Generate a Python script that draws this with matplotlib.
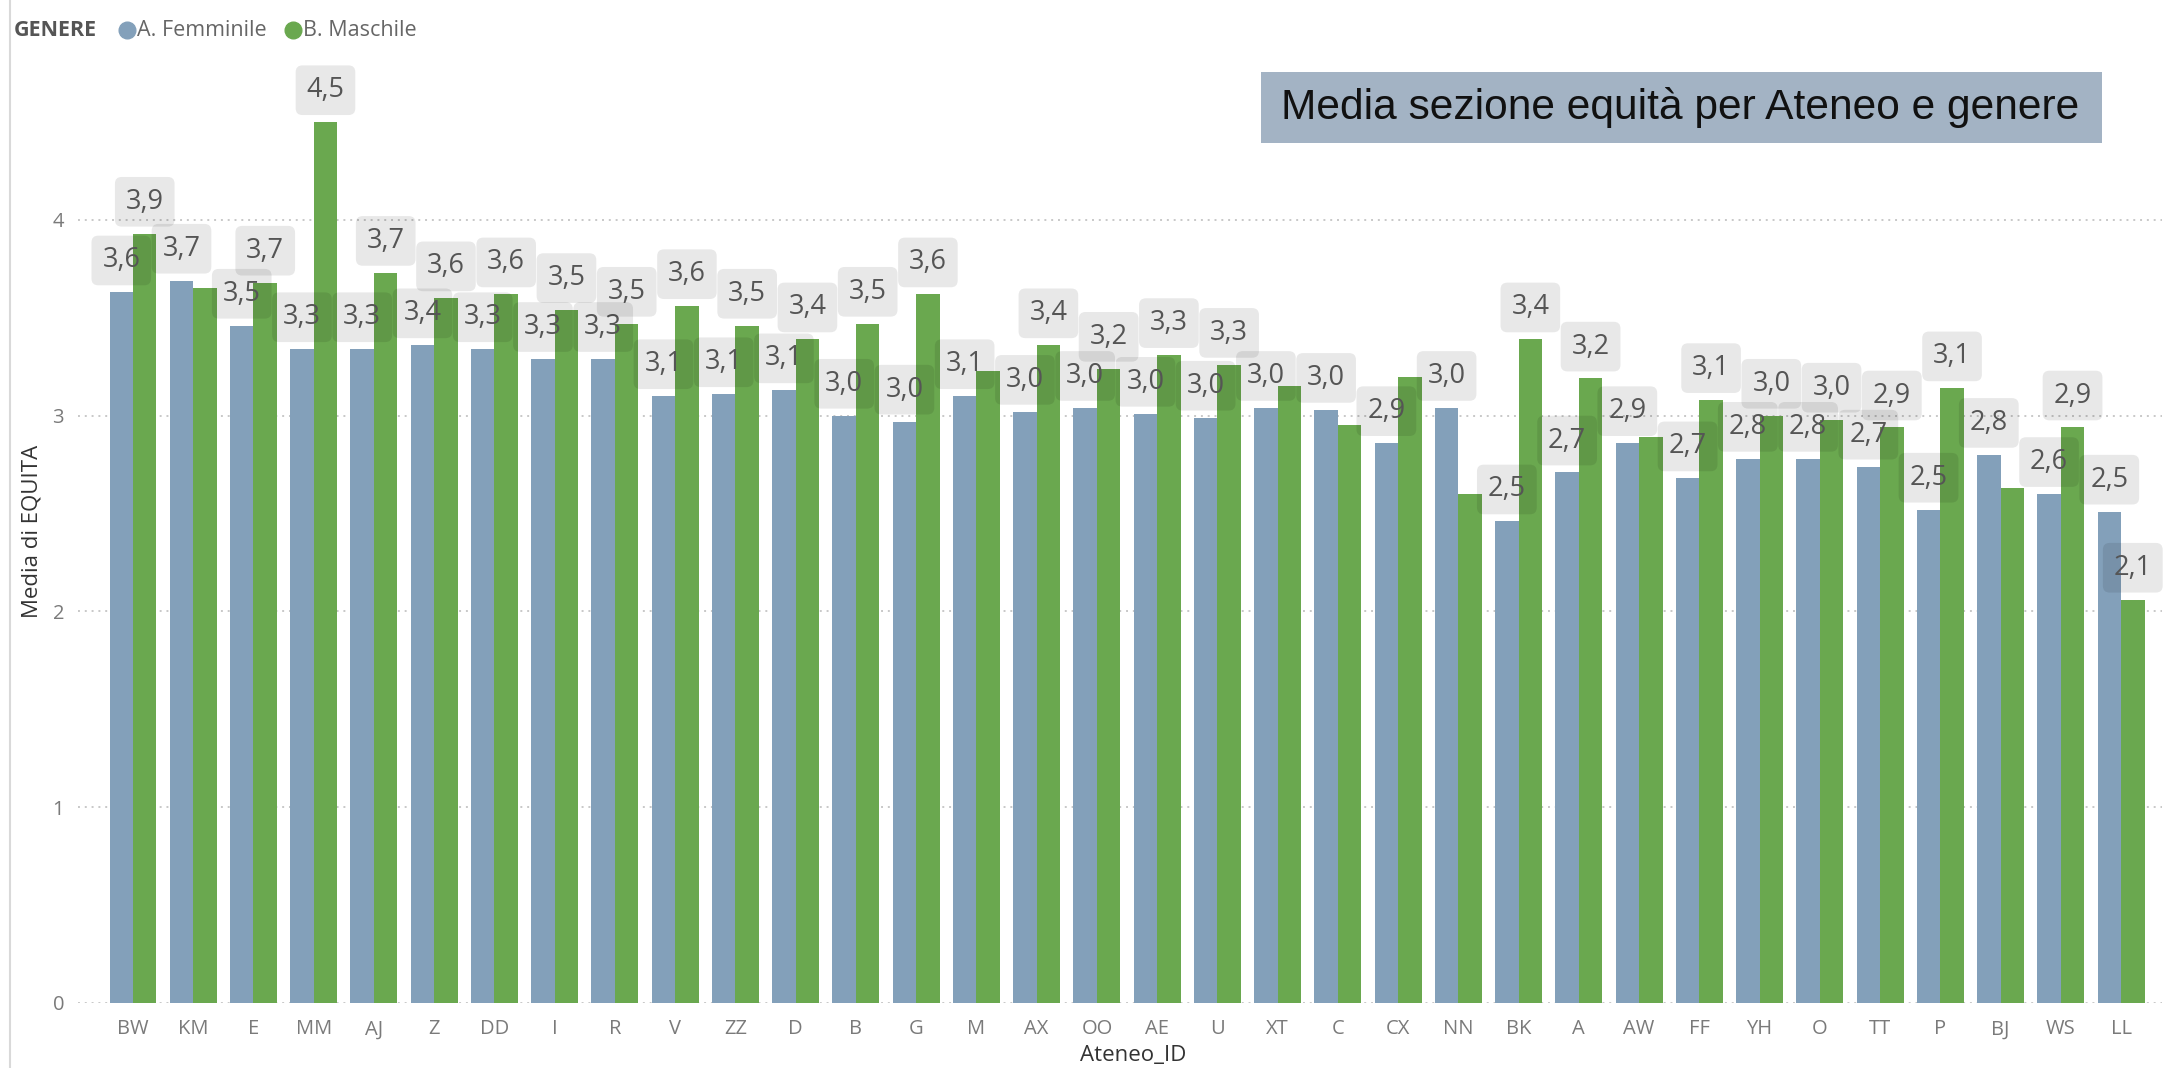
import matplotlib
matplotlib.use("Agg")
import matplotlib.pyplot as plt
from matplotlib.lines import Line2D
from matplotlib.patches import Rectangle
import numpy as np

# ---- data -------------------------------------------------------------
ateneo = ["BW", "KM", "E", "MM", "AJ", "Z", "DD", "I", "R", "V", "ZZ", "D",
          "B", "G", "M", "AX", "OO", "AE", "U", "XT", "C", "CX", "NN", "BK",
          "A", "AW", "FF", "YH", "O", "TT", "P", "BJ", "WS", "LL"]
femminile = [3.63, 3.69, 3.46, 3.34, 3.34, 3.36, 3.34, 3.29, 3.29, 3.10, 3.11, 3.13,
             3.00, 2.97, 3.10, 3.02, 3.04, 3.01, 2.99, 3.04, 3.03, 2.86, 3.04, 2.46,
             2.71, 2.86, 2.68, 2.78, 2.78, 2.74, 2.52, 2.80, 2.60, 2.51]
maschile = [3.93, 3.65, 3.68, 4.50, 3.73, 3.60, 3.62, 3.54, 3.47, 3.56, 3.46, 3.39,
            3.47, 3.62, 3.23, 3.36, 3.24, 3.31, 3.26, 3.15, 2.95, 3.20, 2.60, 3.39,
            3.19, 2.89, 3.08, 3.00, 2.98, 2.94, 3.14, 2.63, 2.94, 2.06]
# data labels that are displayed (overlapping ones are suppressed)
show_f = [True] * len(ateneo)
show_m = [a not in ("KM", "M", "XT", "C", "CX", "NN", "AW", "BJ") for a in ateneo]
yticks = [0, 1, 2, 3, 4]
series_names = ["A. Femminile", "B. Maschile"]
legend_title = "GENERE"
chart_title = "Media sezione equità per Ateneo e genere"

# ---- style ------------------------------------------------------------
C_F = "#83A0BA"
C_M = "#6AA84F"
FONT = ["Open Sans", "DejaVu Sans"]
plt.rcParams["font.family"] = FONT

W, H = 2172, 1068
fig = plt.figure(figsize=(W / 100, H / 100), dpi=100)
fig.patch.set_facecolor("white")

ax_left, ax_right, ax_bottom_px, ax_top_px = 78, 2162, 1002.8, 59.5
ax = fig.add_axes([ax_left / W, 1 - ax_bottom_px / H,
                   (ax_right - ax_left) / W, (ax_bottom_px - ax_top_px) / H])
ax.set_facecolor("white")

x = np.arange(len(ateneo))
bw = 0.39
ax.bar(x - bw / 2, femminile, width=bw, color=C_F, zorder=2)
ax.bar(x + bw / 2, maschile, width=bw, color=C_M, zorder=2)

ax.set_xlim(-0.913, 33.68)
ax.set_ylim(0, 4.82)
ax.set_yticks(yticks)
ax.set_yticklabels([str(t) for t in yticks], fontsize=14.5, color="#7a7a7a")
ax.set_xticks(x)
ax.set_xticklabels(ateneo, fontsize=14.5, color="#7a7a7a")
ax.tick_params(axis="both", length=0)
ax.tick_params(axis="y", pad=10)
ax.tick_params(axis="x", pad=12)
for s in ax.spines.values():
    s.set_visible(False)
ax.yaxis.grid(True, linestyle=(0, (1, 2.5)), color="#c8c8c8", linewidth=1.4, zorder=0)
ax.set_axisbelow(True)


def fmt(v):
    return f"{v:.1f}".replace(".", ",")


off = 0.163
box = dict(boxstyle="round,pad=0.4,rounding_size=0.25", facecolor="black",
           alpha=0.09, edgecolor="none")
for i in range(len(ateneo)):
    if show_f[i]:
        ax.text(x[i] - bw / 2, femminile[i] + off, fmt(femminile[i]), ha="center",
                va="center", fontsize=19.5, color="#555555", bbox=box, zorder=4)
    if show_m[i]:
        ax.text(x[i] + bw / 2, maschile[i] + off, fmt(maschile[i]), ha="center",
                va="center", fontsize=19.5, color="#555555", bbox=box, zorder=4)

# axis titles
fig.text(32 / W, 1 - 531 / H, "Media di EQUITA", rotation=90, ha="center",
         va="center", fontsize=16, color="#333333")
fig.text(1133 / W, 1 - 1055 / H, "Ateneo_ID", ha="center", va="center",
         fontsize=16, color="#333333")

# legend row
ly = 1 - 30 / H
fig.text(14 / W, ly, legend_title, ha="left", va="center", fontsize=15.5,
         fontweight="bold", color="#555555")
fig.add_artist(Line2D([127 / W], [ly], marker="o", markersize=12, color=C_F,
                      linestyle="none", transform=fig.transFigure))
fig.text(137 / W, ly, series_names[0], ha="left", va="center", fontsize=15.5,
         color="#666666")
fig.add_artist(Line2D([293 / W], [ly], marker="o", markersize=12, color=C_M,
                      linestyle="none", transform=fig.transFigure))
fig.text(303 / W, ly, series_names[1], ha="left", va="center", fontsize=15.5,
         color="#666666")

# title panel
fig.add_artist(Rectangle((1261 / W, 1 - 143 / H), (2102 - 1261) / W, (143 - 72) / H,
                         transform=fig.transFigure, facecolor="#A3B3C4",
                         edgecolor="none", zorder=1))
title = fig.text(1281 / W, 1 - 108 / H, chart_title, ha="left", va="center",
                 fontsize=30, color="#111111", family=["Liberation Sans", "DejaVu Sans"],
                 zorder=2)
fig.canvas.draw()
tw = title.get_window_extent().width
title.set_fontsize(30 * 797 / tw)

# left frame line of the visual
fig.add_artist(Line2D([10 / W, 10 / W], [0, 1], color="#d9d9d9", linewidth=1.5,
                      transform=fig.transFigure))

fig.savefig("out.png", dpi=100, facecolor="white")
